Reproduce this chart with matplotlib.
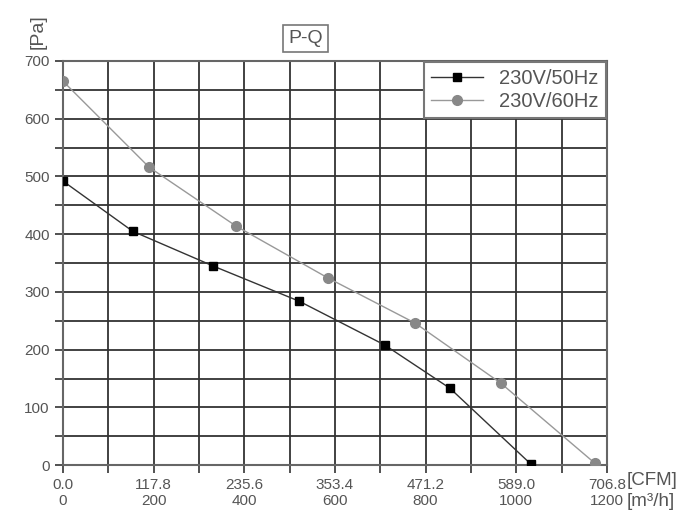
import matplotlib
matplotlib.use('Agg')
import matplotlib.pyplot as plt
from matplotlib.ticker import MultipleLocator

plt.rcParams['font.family'] = ['Liberation Sans', 'DejaVu Sans']

# data (flow in m3/h, pressure in Pa)
q_50 = [0, 154, 331, 521, 710, 854, 1032]
p_50 = [492, 405, 345, 284, 208, 133, 2]
q_60 = [0, 190, 382, 585, 777, 966, 1174]
p_60 = [665, 516, 414, 324, 246, 142, 3]

m3h_ticks = [0, 200, 400, 600, 800, 1000, 1200]
cfm_labels = ['0.0', '117.8', '235.6', '353.4', '471.2', '589.0', '706.8']
pa_ticks = [0, 100, 200, 300, 400, 500, 600, 700]

txt = '#555555'
grid_c = '#333333'

fig = plt.figure(figsize=(7, 5.28), dpi=100)
ax = fig.add_axes([0.09, 0.119, 0.777, 0.7655])

ax.plot(q_50, p_50, color='#333333', lw=1.0, marker='s', ms=6,
        mfc='black', mec='black', label='230V/50Hz', zorder=3)
ax.plot(q_60, p_60, color='#999999', lw=1.0, marker='o', ms=7,
        mfc='#888888', mec='#888888', label='230V/60Hz', zorder=3)

ax.set_xlim(0, 1200)
ax.set_ylim(0, 700)
ax.set_xticks(m3h_ticks)
ax.set_xticklabels([c + '\n' + str(m) for c, m in zip(cfm_labels, m3h_ticks)],
                   linespacing=1.2)
ax.set_yticks(pa_ticks)
ax.xaxis.set_minor_locator(MultipleLocator(100))
ax.yaxis.set_minor_locator(MultipleLocator(50))
ax.grid(True, which='both', color=grid_c, lw=1.3)
ax.tick_params(which='both', direction='out', color=grid_c, width=1.2,
               labelcolor=txt, labelsize=11, length=6)
ax.tick_params(axis='x', pad=3)
for s in ax.spines.values():
    s.set_color('#666666')
    s.set_linewidth(1.5)

ax.text(1.036, -0.038, '[CFM]', transform=ax.transAxes, fontsize=13.5,
        color=txt, ha='left', va='center')
ax.text(1.036, -0.09, '[m³/h]', transform=ax.transAxes, fontsize=13.5,
        color=txt, ha='left', va='center')
ax.text(-0.045, 1.03, '[Pa]', transform=ax.transAxes, fontsize=14,
        color=txt, rotation=90, ha='center', va='bottom')
ax.text(0.446, 1.055, 'P-Q', transform=ax.transAxes, fontsize=14,
        color=txt, ha='center', va='center',
        bbox=dict(boxstyle='square,pad=0.25', fc='white', ec='#777777', lw=1.2))

leg = ax.legend(loc='upper right', fontsize=14.5, frameon=True, fancybox=False,
                borderaxespad=0.05, handlelength=2.6, labelspacing=0.2,
                borderpad=0.35, labelcolor=txt)
leg.get_frame().set_edgecolor('#777777')
leg.get_frame().set_linewidth(1.5)
leg.get_frame().set_alpha(1)

fig.savefig('out.png', dpi=100)
